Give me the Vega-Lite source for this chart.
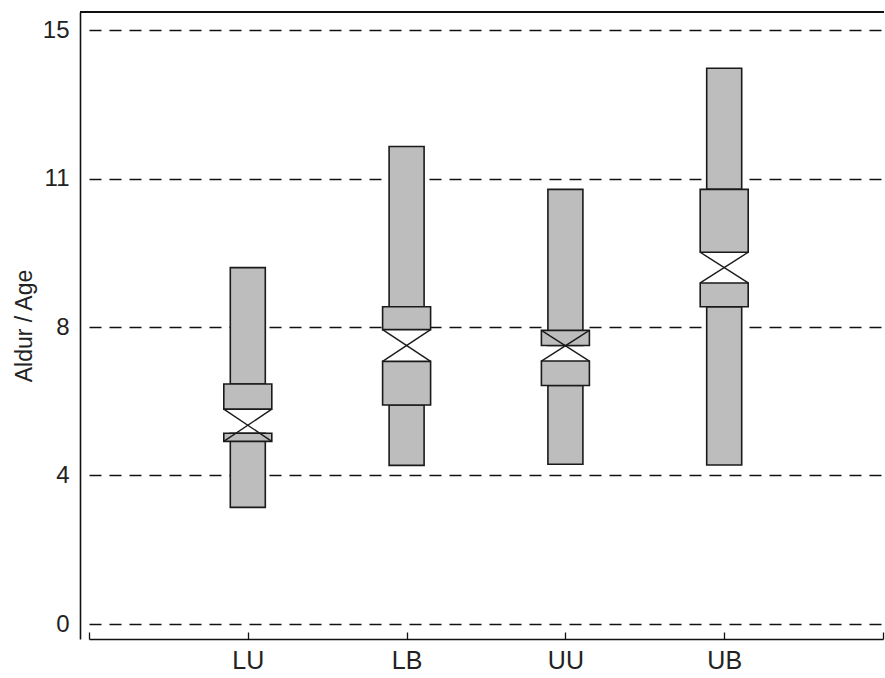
{
  "$schema": "https://vega.github.io/schema/vega-lite/v6.json",
  "width": 804,
  "height": 627,
  "autosize": {"type": "none"},
  "padding": {"left": 80, "top": 12, "right": 1, "bottom": 39},
  "background": "white",
  "config": {
    "view": {"stroke": null},
    "font": "Liberation Sans",
    "axisY": {
      "grid": true,
      "gridDash": [12, 8],
      "gridColor": "#111111",
      "gridWidth": 1.3,
      "ticks": false,
      "domainColor": "#111111",
      "domainWidth": 1.6,
      "labelFontSize": 24,
      "labelColor": "#222222",
      "labelPadding": 11,
      "titleFontSize": 23,
      "titleFontWeight": "normal",
      "titleColor": "#222222",
      "titlePadding": 6,
      "zindex": 1
    },
    "axisX": {
      "ticks": true,
      "tickSize": -7,
      "tickColor": "#111111",
      "tickWidth": 1.3,
      "domainColor": "#111111",
      "domainWidth": 1.6,
      "labelFontSize": 25,
      "labelColor": "#222222",
      "labelPadding": 16,
      "labelAngle": 0,
      "grid": false,
      "title": null,
      "labelExpr": "datum.label == 'start' || datum.label == 'end' ? '' : datum.label"
    }
  },
  "data": {
    "values": [
      {"group": "LU", "min": 3.13, "q1": 5.13, "notch_lo": 4.91, "median": 5.37, "notch_hi": 5.78, "q3": 6.46, "max": 9.2},
      {"group": "LB", "min": 4.26, "q1": 5.89, "notch_lo": 7.07, "median": 7.5, "notch_hi": 7.93, "q3": 8.41, "max": 11.86},
      {"group": "UU", "min": 4.29, "q1": 6.42, "notch_lo": 7.08, "median": 7.45, "notch_hi": 7.91, "q3": 7.5, "max": 10.78},
      {"group": "UB", "min": 4.27, "q1": 8.41, "notch_lo": 8.89, "median": 9.2, "notch_hi": 9.51, "q3": 10.78, "max": 13.97}
    ]
  },
  "layer": [
    {
      "mark": {"type": "bar", "width": 35, "fill": "#bdbdbd", "stroke": "#1a1a1a", "strokeWidth": 1.6},
      "encoding": {
        "x": {"field": "group", "type": "nominal", "scale": {"type": "point", "domain": ["start", "LU", "LB", "UU", "UB", "end"], "range": [9, 803], "padding": 0}},
        "y": {"field": "q3", "type": "quantitative", "title": "Aldur / Age", "axis": {"values": [0, 4, 8, 11, 15]}, "scale": {"domain": [-0.4, 0, 4, 8, 11, 15, 15.49], "range": [627, 612, 463, 315, 166.5, 18, 0], "nice": false, "zero": false}},
        "y2": {"field": "max"}
      }
    },
    {
      "mark": {"type": "bar", "width": 35, "fill": "#bdbdbd", "stroke": "#1a1a1a", "strokeWidth": 1.6},
      "encoding": {
        "x": {"field": "group", "type": "nominal"},
        "y": {"field": "min", "type": "quantitative", "title": "Aldur / Age"},
        "y2": {"field": "q1"}
      }
    },
    {
      "mark": {"type": "bar", "width": 48, "fill": "#bdbdbd", "stroke": "#1a1a1a", "strokeWidth": 1.6},
      "encoding": {
        "x": {"field": "group", "type": "nominal"},
        "y": {"field": "q3", "type": "quantitative", "title": "Aldur / Age"},
        "y2": {"field": "notch_hi"}
      }
    },
    {
      "mark": {"type": "bar", "width": 48, "fill": "#bdbdbd", "stroke": "#1a1a1a", "strokeWidth": 1.6},
      "encoding": {
        "x": {"field": "group", "type": "nominal"},
        "y": {"field": "q1", "type": "quantitative", "title": "Aldur / Age"},
        "y2": {"field": "notch_lo"}
      }
    },
    {
      "mark": {"type": "rule", "xOffset": -24, "x2Offset": 24, "color": "#1a1a1a", "strokeWidth": 1.4},
      "encoding": {
        "x": {"field": "group", "type": "nominal"},
        "x2": {"field": "group"},
        "y": {"field": "notch_hi", "type": "quantitative", "title": "Aldur / Age"},
        "y2": {"field": "notch_lo"}
      }
    },
    {
      "mark": {"type": "rule", "xOffset": 24, "x2Offset": -24, "color": "#1a1a1a", "strokeWidth": 1.4},
      "encoding": {
        "x": {"field": "group", "type": "nominal"},
        "x2": {"field": "group"},
        "y": {"field": "notch_hi", "type": "quantitative", "title": "Aldur / Age"},
        "y2": {"field": "notch_lo"}
      }
    },
    {
      "mark": {"type": "rule", "color": "#111111", "strokeWidth": 1.6},
      "encoding": {
        "y": {"datum": 15.49, "type": "quantitative", "title": "Aldur / Age"}
      }
    }
  ]
}
